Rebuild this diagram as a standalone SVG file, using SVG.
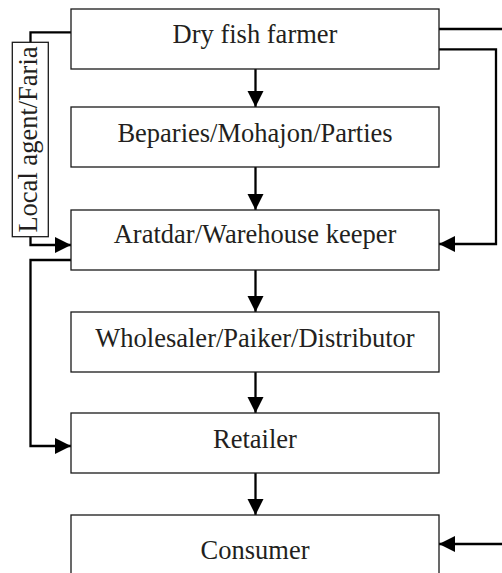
<svg xmlns="http://www.w3.org/2000/svg" width="502" height="573" viewBox="0 0 502 573">
  <style>
    .box { fill: #ffffff; stroke: #1a1a1a; stroke-width: 1.3; }
    .lbl { font-family: "Liberation Serif", "Times New Roman", serif; font-size: 26.5px; fill: #231f20; text-anchor: middle; }
    .conn { fill: none; stroke: #000000; stroke-width: 2.3; }
  </style>
  <defs>
    <marker id="arrow" markerUnits="userSpaceOnUse" markerWidth="17" markerHeight="17" refX="16" refY="8" orient="auto">
      <path d="M0,0 L16,8 L0,16 z" fill="#000000"/>
    </marker>
  </defs>

  <rect width="502" height="573" fill="#ffffff"/>

  <!-- connectors -->
  <g id="connectors">
    <line class="conn" x1="255.5" y1="69" x2="255.5" y2="107" marker-end="url(#arrow)"/>
    <line class="conn" x1="255.5" y1="167" x2="255.5" y2="210" marker-end="url(#arrow)"/>
    <line class="conn" x1="255.5" y1="270" x2="255.5" y2="312" marker-end="url(#arrow)"/>
    <line class="conn" x1="255.5" y1="372" x2="255.5" y2="413" marker-end="url(#arrow)"/>
    <line class="conn" x1="255.5" y1="473" x2="255.5" y2="515" marker-end="url(#arrow)"/>
    <path class="conn" d="M71,32.3 H30.5 V42.3"/>
    <path class="conn" d="M30.5,236.7 V245 H71" marker-end="url(#arrow)"/>
    <path class="conn" d="M71,260 H30.5 V446 H71" marker-end="url(#arrow)"/>
    <path class="conn" d="M439,49.3 H496 V244 H439" marker-end="url(#arrow)"/>
    <path class="conn" d="M439,29 H502"/>
    <path class="conn" d="M502,544 H439" marker-end="url(#arrow)"/>
  </g>

  <g id="farmer">
    <rect class="box" x="71" y="9" width="368" height="60"/>
    <text class="lbl" x="255" y="43.3">Dry fish farmer</text>
  </g>
  <g id="beparies">
    <rect class="box" x="71" y="107" width="368" height="60"/>
    <text class="lbl" x="255" y="141.7">Beparies/Mohajon/Parties</text>
  </g>
  <g id="aratdar">
    <rect class="box" x="71" y="210" width="368" height="60"/>
    <text class="lbl" x="255" y="243.3">Aratdar/Warehouse keeper</text>
  </g>
  <g id="wholesaler">
    <rect class="box" x="71" y="312" width="368" height="60"/>
    <text class="lbl" x="255" y="346.7">Wholesaler/Paiker/Distributor</text>
  </g>
  <g id="retailer">
    <rect class="box" x="71" y="413" width="368" height="60"/>
    <text class="lbl" x="255" y="448.3">Retailer</text>
  </g>
  <g id="consumer">
    <rect class="box" x="71" y="515" width="368" height="62"/>
    <text class="lbl" x="255" y="559.3">Consumer</text>
  </g>
  <g id="local-agent">
    <rect class="box" x="12.3" y="42.3" width="36" height="194.4"/>
    <text class="lbl" transform="translate(37,139.5) rotate(-90)" x="0" y="0">Local agent/Faria</text>
  </g>
</svg>
